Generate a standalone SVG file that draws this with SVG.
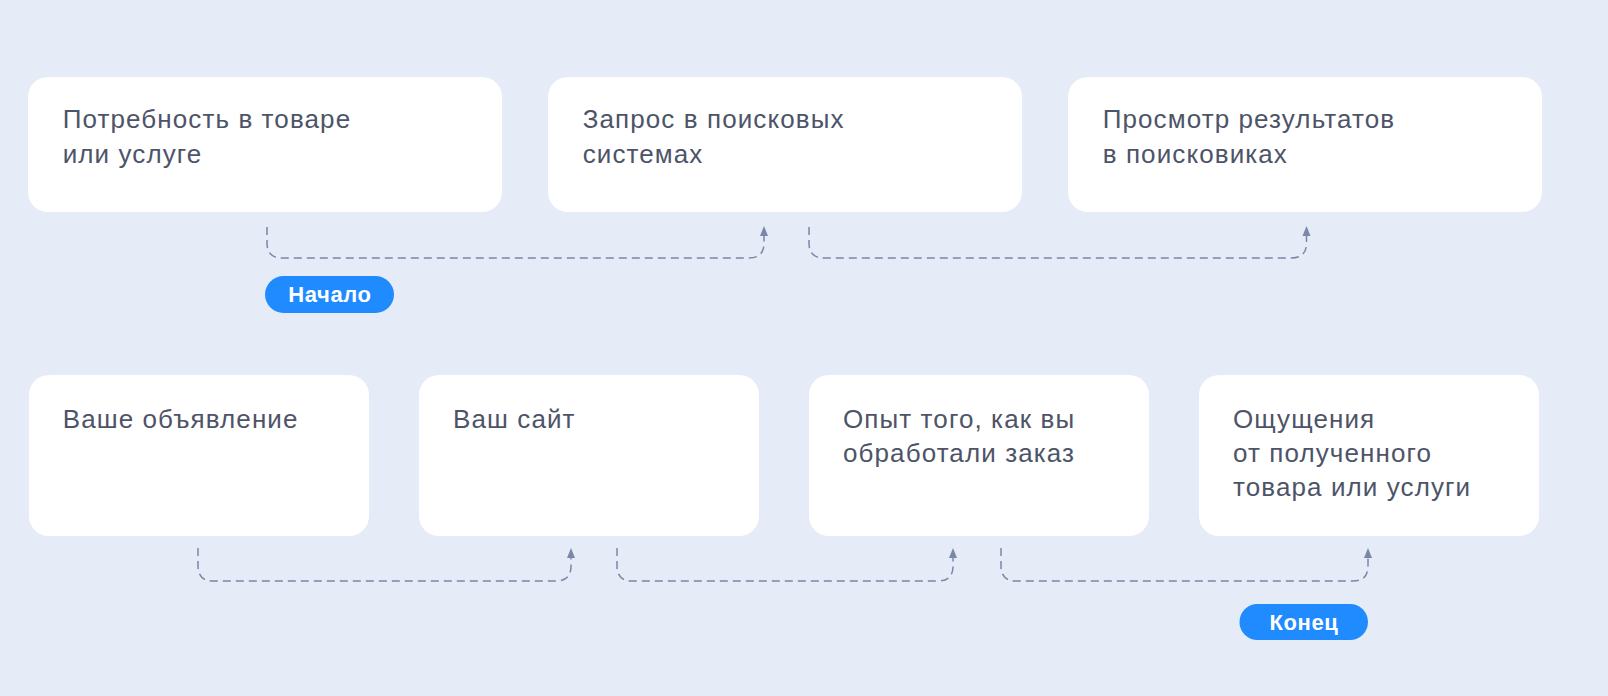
<svg xmlns="http://www.w3.org/2000/svg" width="1608" height="696" viewBox="0 0 1608 696">
<style>
.box{fill:#ffffff}
.t{font-family:"Liberation Sans",Arial,sans-serif;font-size:26px;fill:#4d5468;letter-spacing:1.1px}
.pill{fill:#1f8bff}
.pt{font-family:"Liberation Sans",Arial,sans-serif;font-size:22px;font-weight:bold;fill:#ffffff;text-anchor:middle;letter-spacing:0.6px}
.c{fill:none;stroke:#7b87a8;stroke-width:1.5;stroke-dasharray:8 5}
</style>
<defs>
<path id="arr" d="M0,0 L-4,10 L4,10 Z" fill="#7b87a8"/>
</defs>
<rect width="1608" height="696" fill="#e5ebf7"/>

<g id="n1"><rect class="box" x="28" y="77" width="474" height="135" rx="20"/><text class="t" x="62.7" y="128">Потребность в товаре</text><text class="t" x="62.7" y="163">или услуге</text></g>
<g id="n2"><rect class="box" x="548" y="77" width="474" height="135" rx="20"/><text class="t" x="582.7" y="128">Запрос в поисковых</text><text class="t" x="582.7" y="163">системах</text></g>
<g id="n3"><rect class="box" x="1068" y="77" width="474" height="135" rx="20"/><text class="t" x="1102.7" y="128">Просмотр результатов</text><text class="t" x="1102.7" y="163">в поисковиках</text></g>

<g id="n4"><rect class="box" x="29" y="375" width="340" height="161" rx="20"/><text class="t" x="62.7" y="428">Ваше объявление</text></g>
<g id="n5"><rect class="box" x="419" y="375" width="340" height="161" rx="20"/><text class="t" x="453" y="428">Ваш сайт</text></g>
<g id="n6"><rect class="box" x="809" y="375" width="340" height="161" rx="20"/><text class="t" x="843" y="428">Опыт того, как вы</text><text class="t" x="843" y="462">обработали заказ</text></g>
<g id="n7"><rect class="box" x="1199" y="375" width="340" height="161" rx="20"/><text class="t" x="1233" y="428">Ощущения</text><text class="t" x="1233" y="462">от полученного</text><text class="t" x="1233" y="496">товара или услуги</text></g>

<g id="start"><rect class="pill" x="265" y="276" width="129" height="37" rx="18.5"/><text class="pt" x="330" y="302">Начало</text></g>
<g id="end"><rect class="pill" x="1239.5" y="604" width="128.5" height="36" rx="18"/><text class="pt" x="1304" y="629.5">Конец</text></g>

<g id="connectors">
<path class="c" d="M267,227 V243 Q267,258 282,258 H749 Q764,258 764,243 V235"/>
<use href="#arr" x="764" y="226"/>
<path class="c" d="M809,227 V243 Q809,258 824,258 H1291.5 Q1306.5,258 1306.5,243 V235"/>
<use href="#arr" x="1306.5" y="226"/>
<path class="c" d="M198,548 V566 Q198,581 213,581 H556 Q571,581 571,566 V557"/>
<use href="#arr" x="571" y="548"/>
<path class="c" d="M617,548 V566 Q617,581 632,581 H938 Q953,581 953,566 V557"/>
<use href="#arr" x="953" y="548"/>
<path class="c" d="M1001,548 V566 Q1001,581 1016,581 H1353 Q1368,581 1368,566 V557"/>
<use href="#arr" x="1368" y="548"/>
</g>
</svg>
